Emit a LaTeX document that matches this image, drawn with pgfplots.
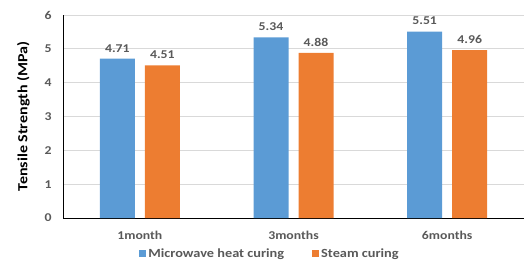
\documentclass[border=0pt]{standalone}
\usepackage{pgfplots}
\pgfplotsset{compat=1.18}
\usepackage{fontspec}
\setmainfont{Carlito}[FakeStretch=1.15]
\definecolor{txt}{HTML}{595959}
\definecolor{cblue}{HTML}{5B9BD5}
\definecolor{corange}{HTML}{ED7D31}
\definecolor{grd}{HTML}{D9D9D9}
\begin{document}
\begin{tikzpicture}[x=1bp,y=1bp]
\useasboundingbox (0,0) rectangle (526,259);
\begin{axis}[
  at={(63bp,41bp)}, anchor=south west,
  scale only axis, width=461bp, height=203bp,
  ybar, bar width=35bp,
  ymin=0, ymax=6, ytick={0,1,...,6},
  xmin=-0.5, xmax=2.5, xtick=data,
  xticklabels={1month,3months,6months},
  axis x line*=bottom, axis y line*=left,
  x axis line style={black, line width=0.8pt, -},
  y axis line style={black, line width=0.8pt, -},
  ymajorgrids, grid style={grd, line width=0.8pt},
  major tick length=0pt,
  tick label style={font=\bfseries\fontsize{12}{14}\selectfont, text=txt},
  /pgf/number format/assume math mode=true,
  xticklabel style={yshift=-10bp},
  yticklabel style={xshift=-8bp},
  ylabel={\bfseries Tensile Strength (MPa)},
  ylabel style={font=\fontsize{14}{16}\selectfont, text=black, yshift=8bp},
  nodes near coords,
  nodes near coords style={font=\bfseries\fontsize{12}{14}\selectfont, text=txt, yshift=3bp, /pgf/number format/.cd, fixed, precision=2, fixed zerofill},
  legend style={at={(0.449,-0.14)}, anchor=north, draw=none, legend columns=2,
     font=\bfseries\fontsize{12.5}{14}\selectfont, text=txt, inner sep=0pt,
     /tikz/every even column/.append style={column sep=26bp}},
  legend image code/.code={\fill[#1] (0bp,-3.5bp) rectangle (7bp,3.5bp);},
]
\addplot[fill=cblue, draw=none, bar shift=-22.5bp] coordinates {(0,4.71) (1,5.34) (2,5.51)};
\addplot[fill=corange, draw=none, bar shift=22.5bp] coordinates {(0,4.51) (1,4.88) (2,4.96)};
\legend{Microwave heat curing, Steam curing}
\end{axis}
\end{tikzpicture}
\end{document}
